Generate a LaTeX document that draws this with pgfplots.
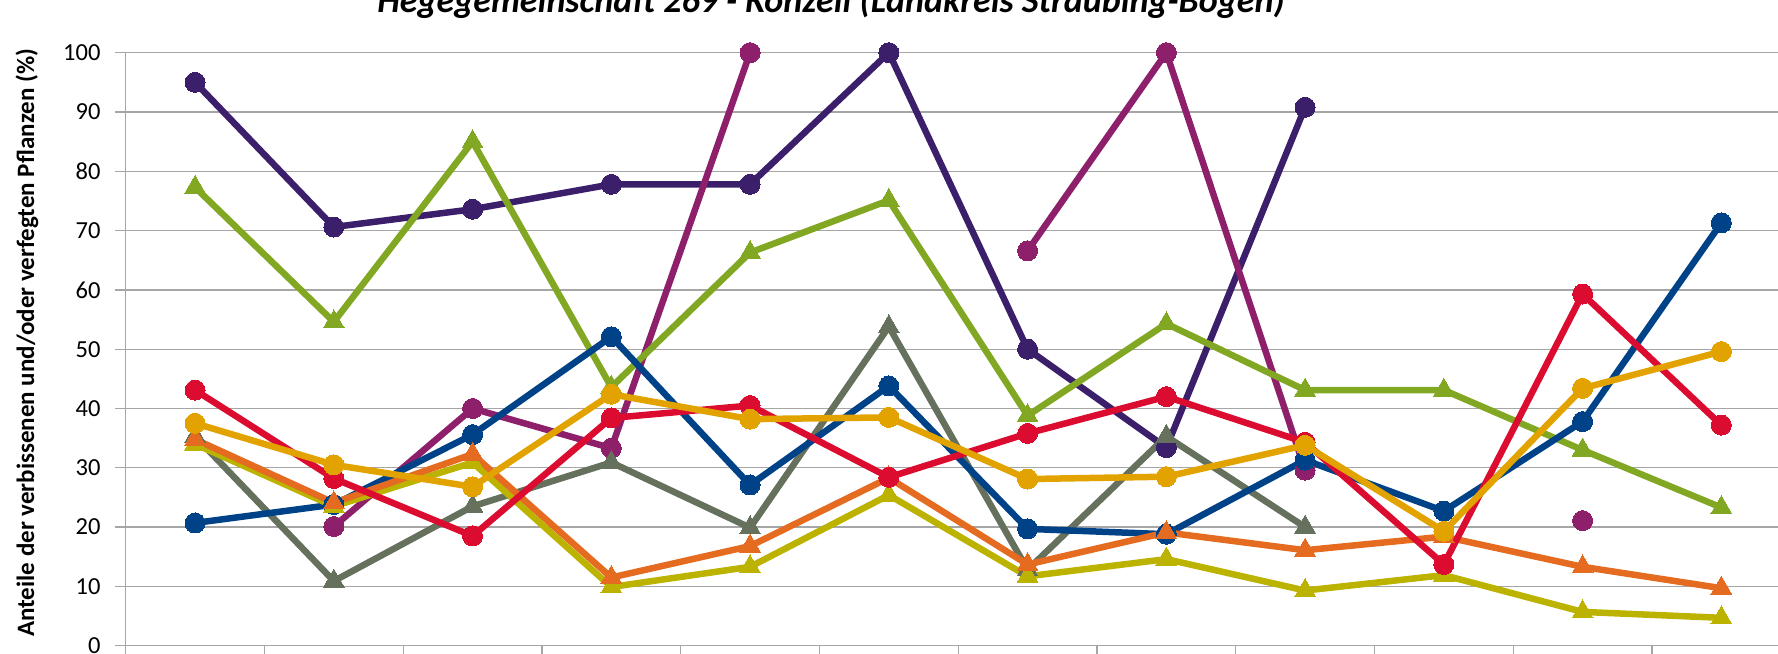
\documentclass[border=0pt]{standalone}
\usepackage{fontspec}
\setmainfont{Carlito}
\usepackage{pgfplots}
\pgfplotsset{compat=1.18}
\definecolor{cDP}{HTML}{3B1F6B}
\definecolor{cMG}{HTML}{8E1F6B}
\definecolor{cGR}{HTML}{82A823}
\definecolor{cGY}{HTML}{65705D}
\definecolor{cBL}{HTML}{004287}
\definecolor{cOL}{HTML}{BCB300}
\definecolor{cOR}{HTML}{E46B1F}
\definecolor{cRD}{HTML}{DC0B30}
\definecolor{cGD}{HTML}{E2A300}
\definecolor{cGRID}{HTML}{A6A6A6}
\pgfplotstableread{
x  dp    mg    gr    gy    bl    ol    or    rd    gd
0  95.0  nan   77.3  35.3  20.7  34.0  34.8  43.1  37.5
1  70.6  20.1  54.6  10.9  23.8  23.5  24.1  28.2  30.5
2  73.6  40.0  85.0  23.5  35.6  30.9  32.3  18.5  26.8
3  77.8  33.3  43.6  30.9  52.1  9.9   11.5  38.4  42.4
4  77.8  100   66.3  19.9  27.1  13.3  16.8  40.5  38.2
5  100   nan   75.1  53.8  43.8  25.4  28.3  28.4  38.5
6  50.0  66.6  38.8  12.8  19.7  11.7  13.7  35.8  28.1
7  33.4  100   54.3  35.3  18.8  14.6  19.1  42.0  28.5
8  90.8  29.6  43.1  20.0  31.3  9.3   16.1  34.3  33.8
9  nan   nan   43.1  nan   22.7  11.9  18.4  13.7  19.3
10 nan   21.1  33.0  nan   37.8  5.7   13.3  59.3  43.4
11 nan   nan   23.3  nan   71.3  4.7   9.7   37.2  49.6
}\data
\begin{document}
\begin{tikzpicture}[x=1bp,y=1bp]
\useasboundingbox (0,0) rectangle (1778,654);
\clip (0,0) rectangle (1778,654);
\begin{axis}[
  at={(125.7bp,8.3bp)}, anchor=south west,
  scale only axis, width=1665bp, height=593bp,
  xmin=-0.5, xmax=11.5, ymin=0, ymax=100,
  axis x line=bottom, axis y line=left,
  axis line style={-, draw=cGRID, line width=1.3bp},
  xtick={-0.5,0.5,...,11.5}, xticklabels={},
  ytick={0,10,...,100},
  yticklabels={0,10,20,30,40,50,60,70,80,90,100},
  tick align=outside,
  major tick length=11bp,
  tick style={draw=cGRID, line width=1.3bp},
  ymajorgrids, grid style={draw=cGRID, line width=1.3bp},
  y tick label style={font=\fontsize{24.5bp}{28bp}\selectfont, inner sep=0pt, anchor=east, xshift=-14bp},
  clip=false,
  unbounded coords=jump,
  every axis plot/.append style={line width=6.5bp, line join=round},
  cmark/.style={mark=*, mark size=10bp, mark options={line width=0bp}},
  tmark/.style={mark=triangle*, mark size=12bp, mark options={line width=0bp}},
]
\addplot[cDP, cmark] table[x=x,y=dp]{\data};
\addplot[cMG, cmark] table[x=x,y=mg]{\data};
\addplot[cGR, tmark] table[x=x,y=gr]{\data};
\addplot[cGY, tmark] table[x=x,y=gy]{\data};
\addplot[cBL, cmark] table[x=x,y=bl]{\data};
\addplot[cOL, tmark] table[x=x,y=ol]{\data};
\addplot[cOR, tmark] table[x=x,y=or]{\data};
\addplot[cRD, cmark] table[x=x,y=rd]{\data};
\addplot[cGD, cmark] table[x=x,y=gd]{\data};
\end{axis}
\node[anchor=base, inner sep=0pt, font=\fontsize{36bp}{40bp}\selectfont\bfseries\itshape] at (831,641.5) {Hegegemeinschaft 269 - Konzell (Landkreis Straubing-Bogen)};
\node[rotate=90, anchor=base west, inner sep=0pt, font=\fontsize{25bp}{30bp}\selectfont\bfseries] at (34,17) {Anteile der verbissenen und/oder verfegten Pflanzen (\%)};
\end{tikzpicture}
\end{document}
